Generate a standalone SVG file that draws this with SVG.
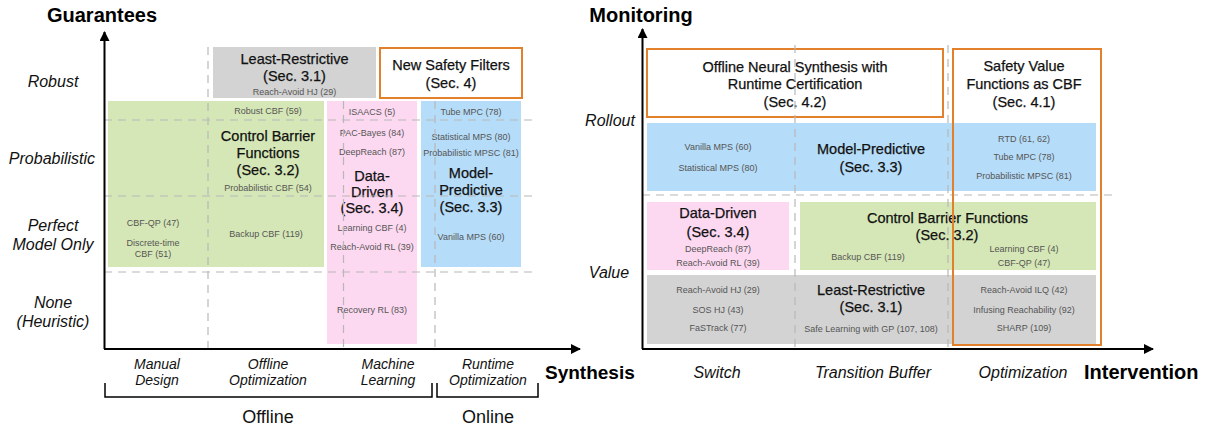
<svg xmlns="http://www.w3.org/2000/svg" width="1212" height="430" viewBox="0 0 1212 430">
<style>
text{font-family:"Liberation Sans",Arial,Helvetica,sans-serif;}
.hd{font-size:20px;font-weight:bold;fill:#000;}
.ax{font-size:16px;font-style:italic;fill:#111;text-anchor:middle;}
.axs{font-size:14px;font-style:italic;fill:#111;text-anchor:middle;}
.grp{font-size:18px;fill:#111;text-anchor:middle;}
.t{font-size:14.5px;fill:#111;stroke:#111;stroke-width:0.25;text-anchor:middle;}
.s{font-size:9px;fill:#555;text-anchor:middle;}
.green{fill:#d5e7b6;}
.pink{fill:#fdd9f1;}
.blue{fill:#b5dcf8;}
.gray{fill:#d3d3d3;}
.orange{fill:#fff;stroke:#e3802c;stroke-width:2;}
.orangeo{fill:none;stroke:#e3802c;stroke-width:2;}
.dash{stroke:#b8b8b8;stroke-width:1.2;stroke-dasharray:8 6;fill:none;}
.axis{stroke:#000;stroke-width:2;fill:none;}
.br{stroke:#000;stroke-width:1.5;fill:none;}
</style>
<defs>
<marker id="arr" viewBox="0 0 10 10" refX="9" refY="5" markerWidth="5" markerHeight="5" orient="auto" markerUnits="strokeWidth">
<path d="M0,0 L10,5 L0,10 z" fill="#000"/>
</marker>
</defs>
<rect width="1212" height="430" fill="#fff"/>

<!-- LEFT CHART -->
<g id="left-least-restrictive">
<rect class="gray" x="213" y="47" width="163" height="51"/>
<text class="t" x="294.5" y="64">Least-Restrictive</text>
<text class="t" x="294.5" y="81">(Sec. 3.1)</text>
<text class="s" x="294.5" y="95">Reach-Avoid HJ (29)</text>
</g>
<g id="left-new-safety-filters">
<rect class="orange" x="380" y="48" width="142" height="50"/>
<text class="t" x="451" y="70">New Safety Filters</text>
<text class="t" x="451" y="88">(Sec. 4)</text>
</g>
<g id="left-cbf">
<rect class="green" x="108" y="101" width="216" height="166"/>
<text class="s" x="268" y="114">Robust CBF (59)</text>
<text class="t" x="268" y="141">Control Barrier</text>
<text class="t" x="268" y="158">Functions</text>
<text class="t" x="268" y="175">(Sec. 3.2)</text>
<text class="s" x="268" y="191">Probabilistic CBF (54)</text>
<text class="s" x="153" y="226">CBF-QP (47)</text>
<text class="s" x="153" y="246">Discrete-time</text>
<text class="s" x="153" y="257">CBF (51)</text>
<text class="s" x="266" y="237">Backup CBF (119)</text>
</g>
<g id="left-data-driven">
<rect class="pink" x="327" y="101" width="90" height="243"/>
<text class="s" x="372" y="115">ISAACS (5)</text>
<text class="s" x="372" y="136">PAC-Bayes (84)</text>
<text class="s" x="372" y="155">DeepReach (87)</text>
<text class="t" x="372" y="181">Data-</text>
<text class="t" x="372" y="197">Driven</text>
<text class="t" x="372" y="213">(Sec. 3.4)</text>
<text class="s" x="372" y="231">Learning CBF (4)</text>
<text class="s" x="372" y="250">Reach-Avoid RL (39)</text>
<text class="s" x="372" y="313">Recovery RL (83)</text>
</g>
<g id="left-model-predictive">
<rect class="blue" x="421" y="101" width="100" height="166"/>
<text class="s" x="471" y="115">Tube MPC (78)</text>
<text class="s" x="471" y="140">Statistical MPS (80)</text>
<text class="s" x="471" y="156">Probabilistic MPSC (81)</text>
<text class="t" x="471" y="178">Model-</text>
<text class="t" x="471" y="195">Predictive</text>
<text class="t" x="471" y="212">(Sec. 3.3)</text>
<text class="s" x="471" y="240">Vanilla MPS (60)</text>
</g>

<!-- RIGHT CHART -->
<g id="right-offline-neural">
<rect class="orange" x="647" y="49" width="296" height="68"/>
<text class="t" x="795" y="72">Offline Neural Synthesis with</text>
<text class="t" x="795" y="89">Runtime Certification</text>
<text class="t" x="795" y="107">(Sec. 4.2)</text>
</g>
<g id="right-model-predictive">
<rect class="blue" x="647" y="123" width="449" height="68"/>
<text class="s" x="718" y="150">Vanilla MPS (60)</text>
<text class="s" x="718" y="171">Statistical MPS (80)</text>
<text class="t" x="871" y="154">Model-Predictive</text>
<text class="t" x="871" y="172">(Sec. 3.3)</text>
<text class="s" x="1024" y="142">RTD (61, 62)</text>
<text class="s" x="1024" y="160">Tube MPC (78)</text>
<text class="s" x="1024" y="179">Probabilistic MPSC (81)</text>
</g>
<g id="right-data-driven">
<rect class="pink" x="647" y="202" width="142" height="68"/>
<text class="t" x="718" y="218">Data-Driven</text>
<text class="t" x="718" y="237">(Sec. 3.4)</text>
<text class="s" x="718" y="252">DeepReach (87)</text>
<text class="s" x="718" y="266">Reach-Avoid RL (39)</text>
</g>
<g id="right-cbf">
<rect class="green" x="800" y="202" width="296" height="68"/>
<text class="t" x="947.5" y="223">Control Barrier Functions</text>
<text class="t" x="947" y="240">(Sec. 3.2)</text>
<text class="s" x="868" y="260">Backup CBF (119)</text>
<text class="s" x="1024" y="252">Learning CBF (4)</text>
<text class="s" x="1024" y="266">CBF-QP (47)</text>
</g>
<g id="right-least-restrictive">
<rect class="gray" x="647" y="275" width="449" height="69"/>
<text class="s" x="718" y="293">Reach-Avoid HJ (29)</text>
<text class="s" x="718" y="313">SOS HJ (43)</text>
<text class="s" x="718" y="331">FaSTrack (77)</text>
<text class="t" x="871" y="295">Least-Restrictive</text>
<text class="t" x="871" y="312">(Sec. 3.1)</text>
<text class="s" x="871" y="332">Safe Learning with GP (107, 108)</text>
<text class="s" x="1024" y="293">Reach-Avoid ILQ (42)</text>
<text class="s" x="1024" y="313">Infusing Reachability (92)</text>
<text class="s" x="1024" y="331">SHARP (109)</text>
</g>

<!-- grid / dashed lines -->
<g id="grid">
<path class="dash" d="M104,120 H537 M104,196 H537 M104,272 H537"/>
<path class="dash" d="M208,47 V349 M343.5,101 V349 M435,101 V349"/>
<path class="dash" d="M642,195 H1112"/>
<path class="dash" d="M795,45 V349 M948,45 V349"/>
</g>

<g id="right-safety-value-cbf">
<rect class="orangeo" x="953" y="49" width="148" height="296"/>
<text class="t" x="1024" y="71">Safety Value</text>
<text class="t" x="1024" y="89">Functions as CBF</text>
<text class="t" x="1024" y="107">(Sec. 4.1)</text>
</g>

<!-- axes and brackets -->
<g id="connectors">
<path class="axis" d="M104.5,349 V32" marker-end="url(#arr)"/>
<path class="axis" d="M104,349 H580" marker-end="url(#arr)"/>
<path class="axis" d="M642.5,349 V29" marker-end="url(#arr)"/>
<path class="axis" d="M642,349 H1153" marker-end="url(#arr)"/>
<path class="br" d="M105,383 V397 H432 V383"/>
<path class="br" d="M437,383 V397 H538 V383"/>
</g>

<!-- axis labels -->
<g id="labels">
<text class="hd" x="102" y="22" text-anchor="middle">Guarantees</text>
<text class="hd" x="545" y="379" style="font-size:19px">Synthesis</text>
<text class="hd" x="641" y="22" text-anchor="middle">Monitoring</text>
<text class="hd" x="1084" y="379">Intervention</text>

<text class="ax" x="53" y="87">Robust</text>
<text class="ax" x="52" y="164">Probabilistic</text>
<text class="ax" x="53" y="231">Perfect</text>
<text class="ax" x="53" y="250">Model Only</text>
<text class="ax" x="53" y="308">None</text>
<text class="ax" x="53" y="327">(Heuristic)</text>

<text class="axs" x="157" y="369">Manual</text>
<text class="axs" x="157" y="385">Design</text>
<text class="axs" x="268" y="369">Offline</text>
<text class="axs" x="268" y="385">Optimization</text>
<text class="axs" x="388" y="369">Machine</text>
<text class="axs" x="388" y="385">Learning</text>
<text class="axs" x="488" y="369">Runtime</text>
<text class="axs" x="488" y="385">Optimization</text>

<text class="grp" x="268" y="423">Offline</text>
<text class="grp" x="488" y="423">Online</text>

<text class="ax" x="610" y="126">Rollout</text>
<text class="ax" x="609" y="278">Value</text>
<text class="ax" x="717" y="378">Switch</text>
<text class="ax" x="873" y="378">Transition Buffer</text>
<text class="ax" x="1023" y="378">Optimization</text>
</g>
</svg>
